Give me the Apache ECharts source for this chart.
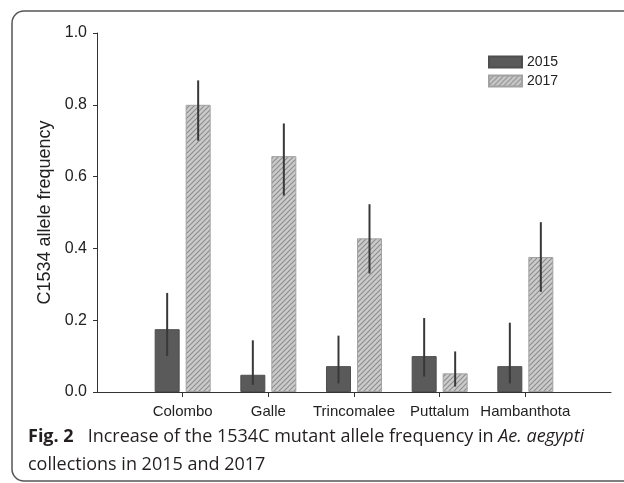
<!DOCTYPE html>
<html>
<head>
<meta charset="utf-8">
<script src="https://cdn.jsdelivr.net/npm/echarts@6/dist/echarts.min.js"></script>
<style>
    html, body { margin: 0; padding: 0; background: #fff; }
    #chart { width: 624px; height: 483px; }
</style>
</head>
<body>
<div id="chart"></div>
<script>
// 数据
const categories = ['Colombo', 'Galle', 'Trincomalee', 'Puttalum', 'Hambanthota']
const years = ['2015', '2017']
const freq2015 = [0.175, 0.048, 0.072, 0.100, 0.072]
const low2015 = [0.100, 0.020, 0.024, 0.043, 0.024]
const high2015 = [0.276, 0.144, 0.157, 0.206, 0.193]
const freq2017 = [0.800, 0.657, 0.428, 0.052, 0.376]
const low2017 = [0.700, 0.547, 0.330, 0.015, 0.279]
const high2017 = [0.868, 0.748, 0.523, 0.113, 0.473]
const yTicks = [0, 0.2, 0.4, 0.6, 0.8, 1.0]

const font = 'Liberation Sans, Arial, sans-serif'
const captionFont = 'Open Sans, Noto Sans, sans-serif'

// 斜线填充
const hatch = (() => {
    const c = document.createElement('canvas')
    c.width = 5
    c.height = 5
    const ctx = c.getContext('2d')
    ctx.fillStyle = '#cbcbcb'
    ctx.fillRect(0, 0, 5, 5)
    ctx.strokeStyle = '#8e8e8e'
    ctx.lineWidth = 1.2
    ctx.beginPath()
    ctx.moveTo(-1, 6); ctx.lineTo(6, -1)
    ctx.moveTo(-1, 1); ctx.lineTo(1, -1)
    ctx.moveTo(4, 6); ctx.lineTo(6, 4)
    ctx.stroke()
    return c
})()

// 两端留空的类目轴
const axisData = [''].concat(categories, [''])
const pad = arr => ['-'].concat(arr, ['-'])

const errorSeries = (lows, highs, dx) => ({
    type: 'custom',
    silent: true,
    z: 5,
    data: lows.map((l, i) => [i + 1, l, highs[i]]),
    renderItem: (params, api) => {
        const p1 = api.coord([api.value(0), api.value(1)])
        const p2 = api.coord([api.value(0), api.value(2)])
        return {
            type: 'line',
            shape: { x1: p1[0] + dx, y1: p1[1], x2: p2[0] + dx, y2: p2[1] },
            style: { stroke: '#383838', lineWidth: 2 }
        }
    }
})

const chart = echarts.init(document.getElementById('chart'), null, { renderer: 'canvas' })

const option = {
    animation: false,
    backgroundColor: '#fff',
    grid: {
        left: 97,
        right: 13,
        top: 33,
        bottom: 91
    },
    legend: {
        orient: 'vertical',
        left: 483,
        top: 50,
        icon: 'rect',
        itemWidth: 33,
        itemHeight: 11,
        itemGap: 5,
        textStyle: { fontFamily: font, fontSize: 14, color: '#222' },
        data: years
    },
    xAxis: {
        type: 'category',
        boundaryGap: false,
        data: axisData,
        axisLine: { lineStyle: { color: '#333', width: 1 } },
        axisTick: {
            length: 5,
            interval: (i, v) => v !== '',
            lineStyle: { color: '#333' }
        },
        axisLabel: {
            interval: 0,
            margin: 12,
            fontFamily: font,
            fontSize: 15,
            color: '#222'
        }
    },
    yAxis: {
        type: 'value',
        min: yTicks[0],
        max: yTicks[yTicks.length - 1],
        interval: 0.2,
        name: 'C1534 allele frequency',
        nameLocation: 'middle',
        nameGap: 43,
        nameTextStyle: { fontFamily: font, fontSize: 18, color: '#222' },
        splitLine: { show: false },
        axisLine: { show: true, lineStyle: { color: '#333', width: 1 } },
        axisTick: { show: true, length: 4, lineStyle: { color: '#333' } },
        axisLabel: {
            margin: 10,
            fontFamily: font,
            fontSize: 16,
            color: '#222',
            formatter: v => v.toFixed(1)
        }
    },
    series: [
        {
            name: years[0],
            type: 'bar',
            barWidth: 25,
            barGap: '24%',
            data: pad(freq2015),
            itemStyle: { color: '#5a5a5a', borderColor: '#4e4e4e', borderWidth: 1 }
        },
        {
            name: years[1],
            type: 'bar',
            barWidth: 25,
            barGap: '24%',
            data: pad(freq2017),
            itemStyle: {
                color: { image: hatch, repeat: 'repeat' },
                borderColor: '#a2a2a2',
                borderWidth: 1
            }
        },
        errorSeries(low2015, high2015, -15.5),
        errorSeries(low2017, high2017, 15.5)
    ],
    graphic: [
        {
            type: 'rect',
            silent: true,
            shape: { x: 12, y: 11, width: 700, height: 470, r: 12 },
            style: { fill: 'none', stroke: '#555', lineWidth: 1.5 }
        },
        {
            type: 'text',
            left: 28,
            top: 423,
            style: {
                text: '{b|Fig. 2}   Increase of the 1534C mutant allele frequency in {i|Ae. aegypti}\ncollections in 2015 and 2017',
                fontFamily: captionFont,
                fontSize: 18,
                lineHeight: 28,
                fill: '#231f20',
                rich: {
                    b: { fontFamily: captionFont, fontSize: 18, fontWeight: 'bold', fill: '#231f20' },
                    i: { fontFamily: captionFont, fontSize: 18, fontStyle: 'italic', fill: '#231f20' }
                }
            }
        }
    ]
}

chart.setOption(option)
</script>
</body>
</html>
